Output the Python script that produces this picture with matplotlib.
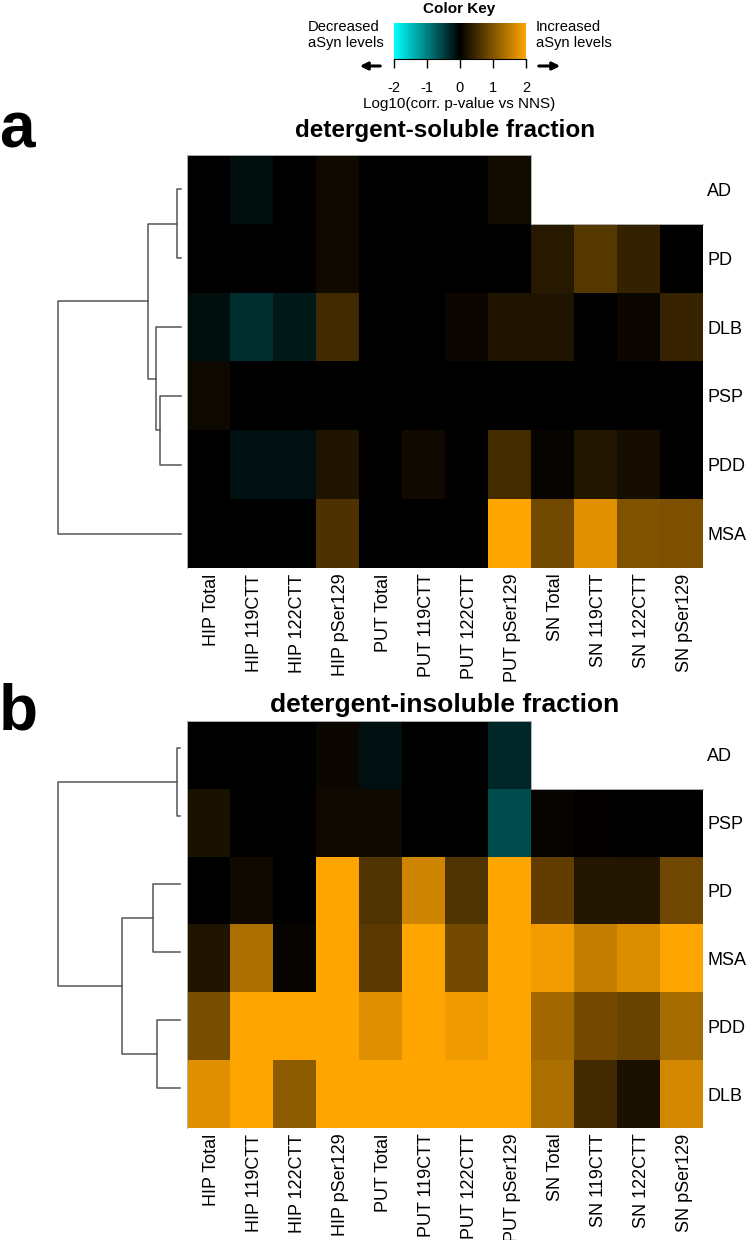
import numpy as np
import matplotlib
matplotlib.use('Agg')
import matplotlib.pyplot as plt
import matplotlib.transforms as mtransforms
from matplotlib.colors import LinearSegmentedColormap
from matplotlib.patches import FancyArrowPatch

plt.rcParams['font.family'] = ['Liberation Sans', 'DejaVu Sans']

W, H = 751, 1240
nan = np.nan

# columns (regions / antibodies)
cols = ["HIP Total", "HIP 119CTT", "HIP 122CTT", "HIP pSer129",
        "PUT Total", "PUT 119CTT", "PUT 122CTT", "PUT pSer129",
        "SN Total", "SN 119CTT", "SN 122CTT", "SN pSer129"]

# a: detergent-soluble fraction (log10 corr. p-value vs NNS, signed)
rows_a = ["AD", "PD", "DLB", "PSP", "PDD", "MSA"]
vals_a = [
    [0.0, -0.10, 0.0, 0.12, 0.0, 0.0, 0.0, 0.14, nan, nan, nan, nan],
    [0.0, 0.0, 0.0, 0.12, 0.0, 0.0, 0.0, 0.0, 0.30, 0.67, 0.40, 0.0],
    [-0.10, -0.35, -0.20, 0.50, 0.0, 0.0, 0.08, 0.24, 0.24, 0.0, 0.08, 0.43],
    [0.10, 0.0, 0.0, 0.0, 0.0, 0.0, 0.0, 0.0, 0.0, 0.0, 0.0, 0.0],
    [0.0, -0.12, -0.12, 0.24, 0.0, 0.12, 0.0, 0.53, 0.06, 0.27, 0.17, 0.0],
    [0.0, 0.0, 0.0, 0.60, 0.0, 0.0, 0.0, 2.50, 0.88, 1.76, 1.00, 0.98],
]
# merges: child, child, height (root = 1)
link_a = [[0, 1, 0.035], [3, 4, 0.17], [2, 7, 0.20], [6, 8, 0.266], [9, 5, 1.0]]

# b: detergent-insoluble fraction
rows_b = ["AD", "PSP", "PD", "MSA", "PDD", "DLB"]
vals_b = [
    [0.0, 0.0, 0.0, 0.08, -0.14, 0.0, 0.0, -0.31, nan, nan, nan, nan],
    [0.20, 0.0, 0.0, 0.12, 0.12, 0.0, 0.0, -0.59, 0.06, 0.02, 0.0, 0.0],
    [0.0, 0.12, 0.0, 2.50, 0.61, 1.60, 0.61, 2.50, 0.75, 0.27, 0.27, 0.86],
    [0.24, 1.33, 0.06, 2.50, 0.69, 2.50, 0.90, 2.50, 1.88, 1.53, 1.71, 2.50],
    [0.93, 2.50, 2.50, 2.50, 1.74, 2.50, 1.86, 2.50, 1.25, 0.90, 0.82, 1.30],
    [1.74, 2.50, 1.10, 2.50, 2.50, 2.50, 2.50, 2.50, 1.33, 0.51, 0.20, 1.65],
]
link_b = [[0, 1, 0.027], [4, 5, 0.186], [2, 3, 0.222], [8, 7, 0.479], [6, 9, 1.0]]

key_ticks = [-2, -1, 0, 1, 2]

cmap = LinearSegmentedColormap.from_list('key', ['cyan', 'black', 'orange'])

fig = plt.figure(figsize=(W / 100, H / 100), dpi=100)


def box(x0, y0, x1, y1):
    # pixel box, origin top-left
    return fig.add_axes([x0 / W, 1 - y1 / H, (x1 - x0) / W, (y1 - y0) / H])


def heat(ax, vals, rows):
    data = np.array(vals, dtype=float)
    ax.imshow(data, cmap=cmap, vmin=-2, vmax=2, aspect='auto', interpolation='nearest')
    ax.set_xticks(range(len(cols)), cols, rotation=90, fontsize=13)
    ax.set_yticks(range(len(rows)), rows, fontsize=13)
    ax.yaxis.tick_right()
    ax.tick_params(axis='x', length=0, pad=4)
    ax.tick_params(axis='y', length=0, pad=3)
    shift = mtransforms.ScaledTranslation(3 / 100, 0, fig.dpi_scale_trans)
    for lab in ax.get_xticklabels():
        lab.set_transform(lab.get_transform() + shift)
    for s in ax.spines.values():
        s.set_visible(False)
    # faint grey outline along the top edge of the filled cells
    nc = data.shape[1]
    top = [np.argmax(~np.isnan(data[:, j])) - 0.5 for j in range(nc)]
    xs, ys = [-0.5], [data.shape[0] - 0.5]
    for j in range(nc):
        xs += [j - 0.5, j + 0.5]
        ys += [top[j], top[j]]
    ax.plot(xs, ys, color='#b0b0b0', lw=0.7, clip_on=False)
    ax.set_xlim(-0.5, nc - 0.5)
    ax.set_ylim(data.shape[0] - 0.5, -0.5)


def dendro(ax, link, n):
    pos = {i: (0.0, float(i)) for i in range(n)}
    for k, (a, b, h) in enumerate(link):
        ha, ya = pos[a]
        hb, yb = pos[b]
        ax.plot([ha, h, h, hb], [ya, ya, yb, yb], color='#555555', lw=1.1, clip_on=False)
        pos[n + k] = (h, (ya + yb) / 2)
    ax.set_xlim(1.0, 0.0)
    ax.set_ylim(n - 0.5, -0.5)
    ax.axis('off')


# panel a
ax_a = box(187, 155, 703, 568)
heat(ax_a, vals_a, rows_a)
dendro(box(58, 155, 181, 568), link_a, len(rows_a))
fig.text(445 / W, 1 - 137 / H, 'detergent-soluble fraction', ha='center', va='baseline',
         fontsize=17.5, fontweight='bold')
fig.text(-1 / W, 1 - 148 / H, 'a', fontsize=46, fontweight='bold', va='baseline')

# panel b
ax_b = box(187, 721, 703, 1128)
heat(ax_b, vals_b, rows_b)
dendro(box(58, 714.5, 180, 1121.5), link_b, len(rows_b))
fig.text(445 / W, 1 - 712 / H, 'detergent-insoluble fraction', ha='center', va='baseline',
         fontsize=19, fontweight='bold')
fig.text(-1 / W, 1 - 730 / H, 'b', fontsize=46, fontweight='bold', va='baseline')

# color key
kax = box(394, 23, 526, 59)
kax.imshow(np.linspace(-2, 2, 256)[None, :], cmap=cmap, aspect='auto', extent=[-2, 2, 0, 1])
kax.set_yticks([])
kax.set_xticks(key_ticks, [str(t) for t in key_ticks])
kax.tick_params(axis='x', length=6.5, width=1, pad=9, labelsize=10.5)
for side in ['top', 'left', 'right']:
    kax.spines[side].set_visible(False)
fig.text(459 / W, 1 - 9 / H, 'Color Key', ha='center', va='center', fontsize=11, fontweight='bold')
fig.text(459 / W, 1 - 104 / H, 'Log10(corr. p-value vs NNS)', ha='center', va='center', fontsize=11)
fig.text(308 / W, 1 - 35 / H, 'Decreased\naSyn levels', ha='left', va='center', fontsize=10.6,
         linespacing=1.25)
fig.text(536 / W, 1 - 35 / H, 'Increased\naSyn levels', ha='left', va='center', fontsize=10.6,
         linespacing=1.25)
for x0, x1 in [(383, 357), (536, 563)]:
    fig.add_artist(FancyArrowPatch((x0 / W, 1 - 66 / H), (x1 / W, 1 - 66 / H),
                                   transform=fig.transFigure, arrowstyle='-|>',
                                   mutation_scale=11, lw=2.2, color='black'))

fig.savefig('out.png', dpi=100)
